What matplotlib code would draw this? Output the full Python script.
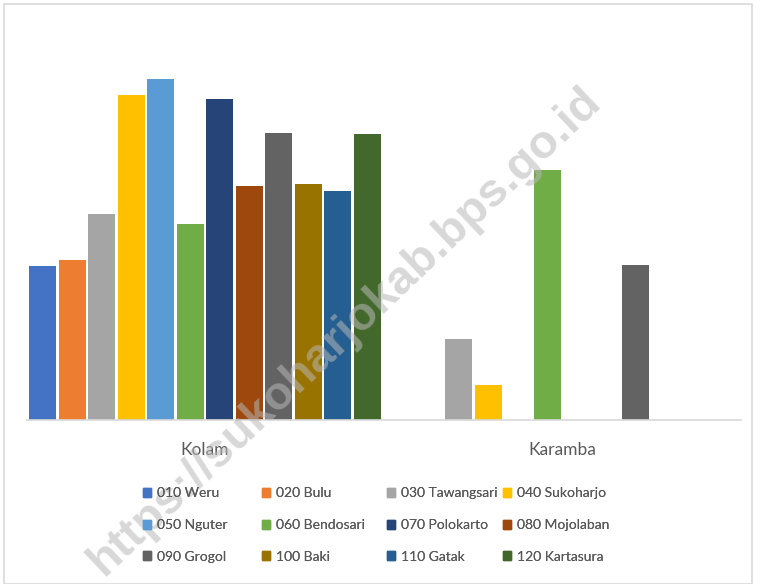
import numpy as np
import matplotlib
matplotlib.use("Agg")
import matplotlib.pyplot as plt
from matplotlib.patches import Patch, Rectangle

categories = ["Kolam", "Karamba"]
series = ["010 Weru", "020 Bulu", "030 Tawangsari", "040 Sukoharjo",
          "050 Nguter", "060 Bendosari", "070 Polokarto", "080 Mojolaban",
          "090 Grogol", "100 Baki", "110 Gatak", "120 Kartasura"]
# values (no axis scale shown)
kolam = [154, 160, 206, 325, 341, 196, 321, 234, 287, 236, 229, 286]
karamba = [0, 0, 81, 35, 0, 250, 0, 0, 155, 0, 0, 0]
colors = ["#4472C4", "#ED7D31", "#A5A5A5", "#FFC000", "#5B9BD5", "#70AD47",
          "#264478", "#9E480E", "#636363", "#997300", "#255E91", "#43682B"]

plt.rcParams["font.family"] = ["Lato", "DejaVu Sans"]
fig = plt.figure(figsize=(7.57, 5.84), dpi=100)
ax = fig.add_axes([26.5 / 757, 1 - 420 / 584, 714 / 757, 400 / 584])

x = np.arange(len(categories))
n = len(series)
slot = 0.0826
for i, (name, col) in enumerate(zip(series, colors)):
    vals = [kolam[i], karamba[i]]
    ax.bar(x + (i - (n - 1) / 2) * slot, vals, width=0.0756, color=col, label=name)

ax.set_xlim(-0.5, 1.5)
ax.set_ylim(0, 400)
ax.set_yticks([])
ax.set_xticks(x, categories)
ax.tick_params(axis="x", length=0, pad=16, labelsize=12.5, labelcolor="#595959")
for s in ["top", "right", "left"]:
    ax.spines[s].set_visible(False)
ax.spines["bottom"].set_color("#d9d9d9")
ax.spines["bottom"].set_linewidth(1.2)

# legend: Excel lays it out row-wise with equal column widths -> one legend per column
ncol = 4
col_x = [143, 262, 387, 503]
for c in range(ncol):
    idx = [r * ncol + c for r in range(3)]
    lg = fig.legend([Patch(color=colors[k]) for k in idx], [series[k] for k in idx],
                    loc="center left", bbox_to_anchor=(col_x[c] / 757, 1 - 525 / 584),
                    frameon=False, fontsize=10, labelcolor="#595959",
                    handlelength=0.6, handleheight=0.6, handletextpad=0.4,
                    labelspacing=1.42, borderpad=0, borderaxespad=0)
    fig.add_artist(lg)

# watermark (clipped at the bottom edge, as in the source image)
fig.text(345 / 757, 1 - 331 / 584, "https://sukoharjokab.bps.go.id",
         rotation=43.5, rotation_mode="anchor", ha="center", va="center",
         fontsize=34, fontweight="bold", color="#b8b8b8", alpha=0.55,
         family="Liberation Sans")

# chart border
fig.patches.append(Rectangle((4 / 757, 0), 748 / 757, 1 - 4 / 584, transform=fig.transFigure,
                             fill=False, edgecolor="#d9d9d9", linewidth=1.2))

fig.savefig("out.png", dpi=100)
